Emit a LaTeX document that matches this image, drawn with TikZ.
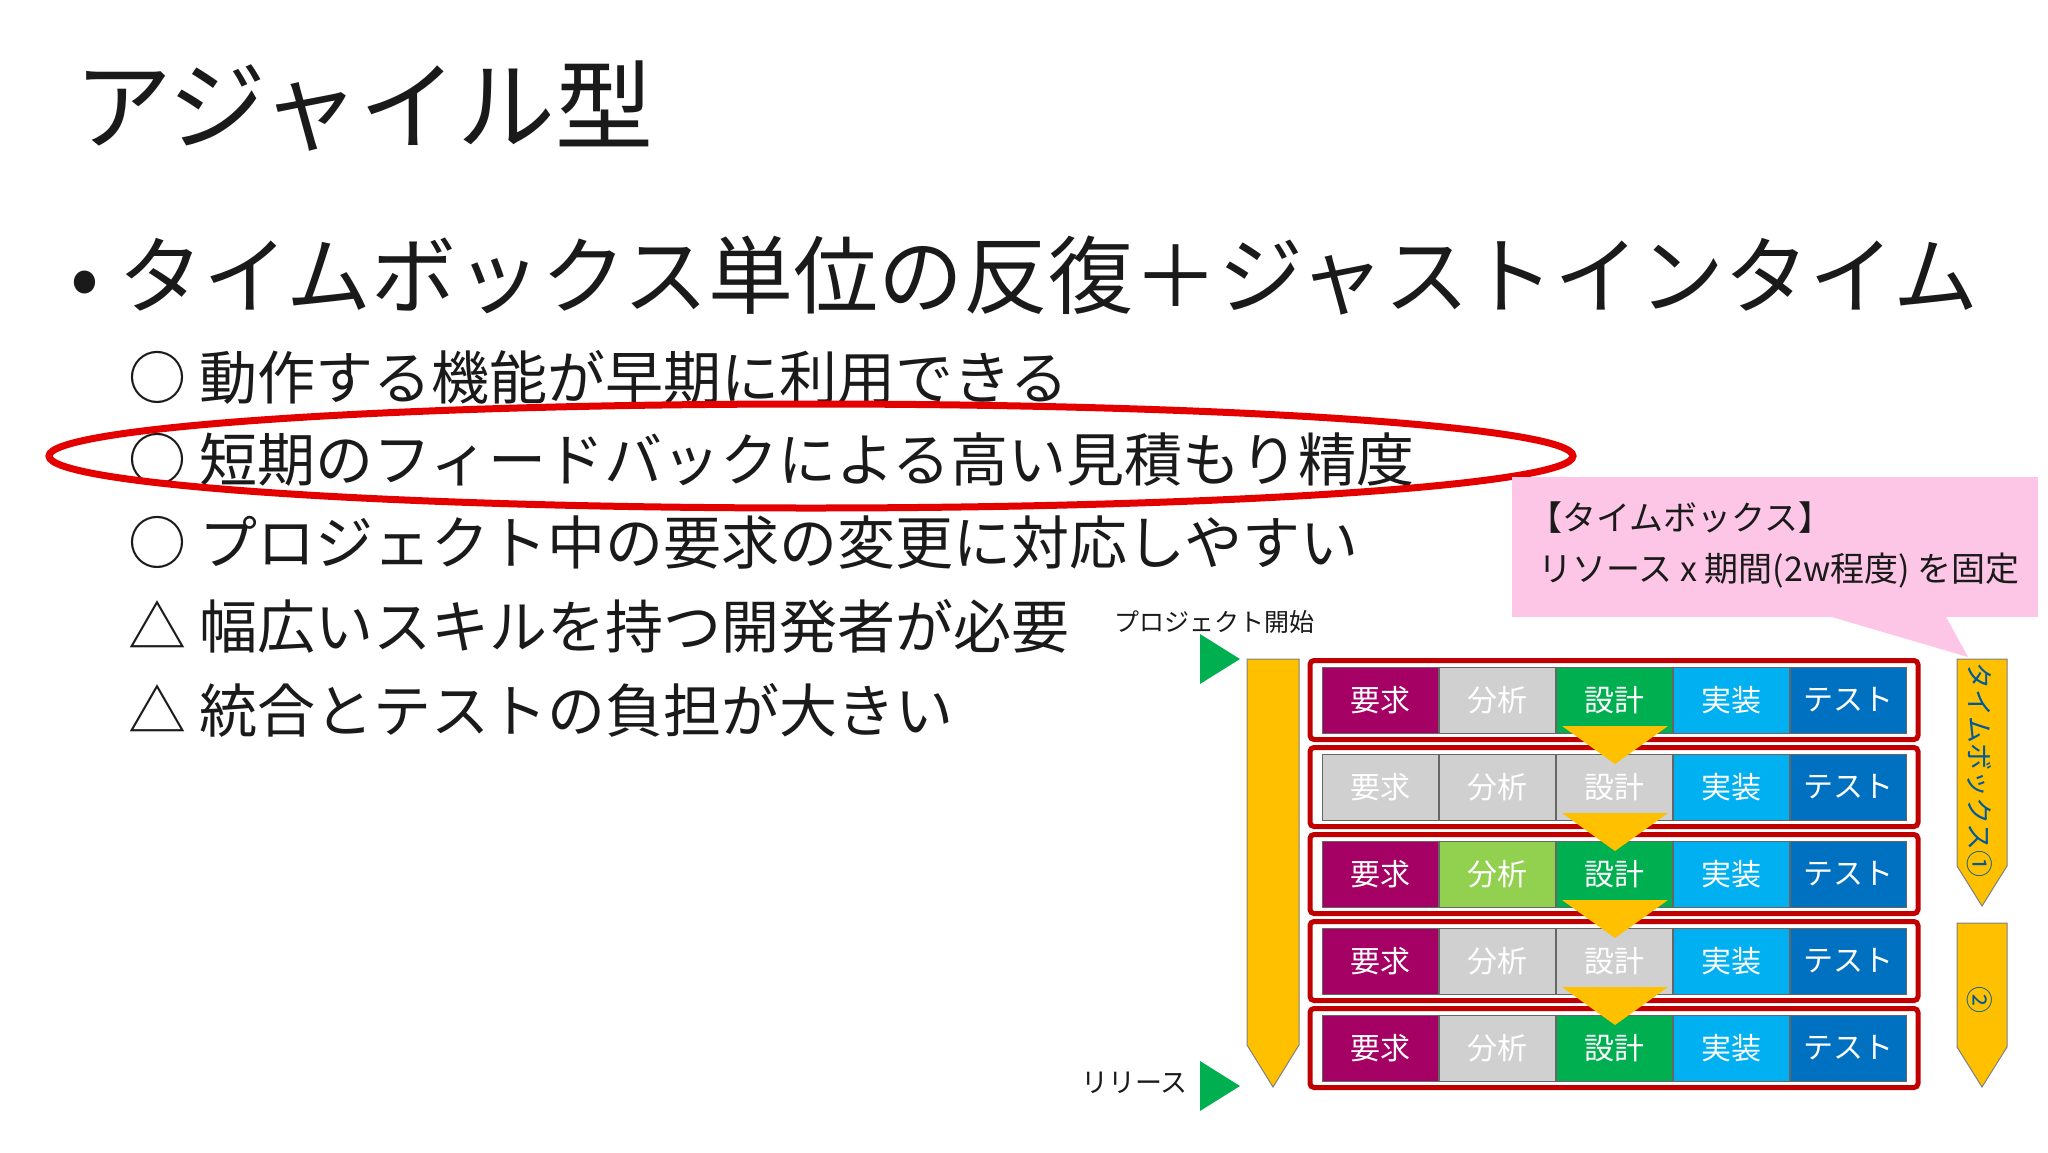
\documentclass[tikz,border=0pt]{standalone}
\usepackage{fontspec}
\setmainfont{Noto Sans CJK JP}
\usetikzlibrary{shapes.geometric}
\definecolor{cM}{HTML}{A50064}
\definecolor{cG}{HTML}{D0D0D0}
\definecolor{cGr}{HTML}{00B050}
\definecolor{cLB}{HTML}{00B0F0}
\definecolor{cB}{HTML}{0070C0}
\definecolor{cLG}{HTML}{92D050}
\definecolor{cR}{HTML}{C00000}
\definecolor{cY}{HTML}{FFC000}
\definecolor{cP}{HTML}{FDC6E6}
\definecolor{cTx}{HTML}{1A1A1A}
\tikzset{
  cell/.style={draw=black!60, line width=1pt, minimum width=116pt, minimum height=66pt, text=white, font=\fontsize{30}{30}\selectfont, inner sep=0pt},
  rowbox/.style={draw=cR, line width=5pt, rounded corners=4pt, minimum width=608pt, minimum height=79pt},
  item/.style={anchor=west, text=cTx, font=\fontsize{58}{58}\selectfont, inner sep=0pt},
}
\begin{document}
\begin{tikzpicture}[x=1pt,y=-1pt]
\useasboundingbox (0,0) rectangle (2048,1152);
\fill[white] (0,0) rectangle (2048,1152);
\node[anchor=west, text=cTx, font=\fontsize{98}{98}\selectfont, inner sep=0pt] (title) at (74,106) {アジャイル型};
\node[anchor=west, text=cTx, font=\fontsize{85}{85}\selectfont, inner sep=0pt] (bul) at (70,276) {• タイムボックス単位の反復＋ジャストインタイム};
\node[item] (i1) at (128,377) {○ 動作する機能が早期に利用できる};
\node[item] (i2) at (128,460) {○ 短期のフィードバックによる高い見積もり精度};
\node[item] (i3) at (128,543) {○ プロジェクト中の要求の変更に対応しやすい};
\node[item] (i4) at (128,626) {△ 幅広いスキルを持つ開発者が必要};
\node[item] (i5) at (128,710) {△ 統合とテストの負担が大きい};
\draw[red!90!black, line width=7pt] (811,456) ellipse [x radius=762, y radius=52];
% callout
\fill[cP] (1512,477) rectangle (2038,617);
\fill[cP] (1825,615) -- (1945,615) -- (1968,657) -- cycle;
\node[anchor=west, font=\fontsize{34}{34}\selectfont, text=cTx, inner sep=0pt] (c1) at (1528,518) {【タイムボックス】};
\node[anchor=west, font=\fontsize{34}{34}\selectfont, text=cTx, inner sep=0pt] (c2) at (1538,571) {リソース x 期間(2w程度) を固定};
% left arrow
\fill[cY, draw=black!50, line width=1pt] (1247,659) -- (1299,659) -- (1299,1045) -- (1273,1087) -- (1247,1045) -- cycle;
% right arrows
\fill[cY, draw=black!50, line width=1pt] (1957,659) -- (2007,659) -- (2007,866) -- (1982,906) -- (1957,866) -- cycle;
\fill[cY, draw=black!50, line width=1pt] (1957,923) -- (2007,923) -- (2007,1047) -- (1982,1087) -- (1957,1047) -- cycle;
\node[rotate=-90, font=\fontsize{27}{27}\selectfont, text=cB!80!black, inner sep=0pt] (tb1) at (1980,770) {タイムボックス①};
\node[rotate=-90, font=\fontsize{27}{27}\selectfont, text=cB!80!black, inner sep=0pt] (tb2) at (1980,1000) {②};
% green triangles
\fill[cGr] (1200,634) -- (1240,659) -- (1200,684) -- cycle;
\fill[cGr] (1200,1061) -- (1240,1086) -- (1200,1111) -- cycle;
\node[font=\fontsize{25}{25}\selectfont, text=cTx, inner sep=0pt] (ps) at (1214,622) {プロジェクト開始};
\node[anchor=east, font=\fontsize{27}{27}\selectfont, text=cTx, inner sep=0pt] (rl) at (1188,1083) {リリース};
% rows
\foreach \r/\a/\b/\c in {0/cM/cG/cGr, 1/cG/cG/cG, 2/cM/cLG/cGr, 3/cM/cG/cG, 4/cM/cG/cGr}{
  \pgfmathsetmacro{\yy}{700+87*\r}
  \node[rowbox] (row\r) at (1614,\yy) {};
  \node[cell, fill=\a] (a\r) at (1380,\yy) {要求};
  \node[cell, fill=\b] (b\r) at (1497,\yy) {分析};
  \node[cell, fill=\c] (c\r) at (1614,\yy) {設計};
  \node[cell, fill=cLB] (d\r) at (1731,\yy) {実装};
  \node[cell, fill=cB] (e\r) at (1848,\yy) {テスト};
}
\foreach \r in {0,1,2,3}{
  \pgfmathsetmacro{\yt}{726+87*\r}
  \fill[cY] (1562,\yt) -- (1668,\yt) -- (1615,\yt+38) -- cycle;
}
\end{tikzpicture}
\end{document}
